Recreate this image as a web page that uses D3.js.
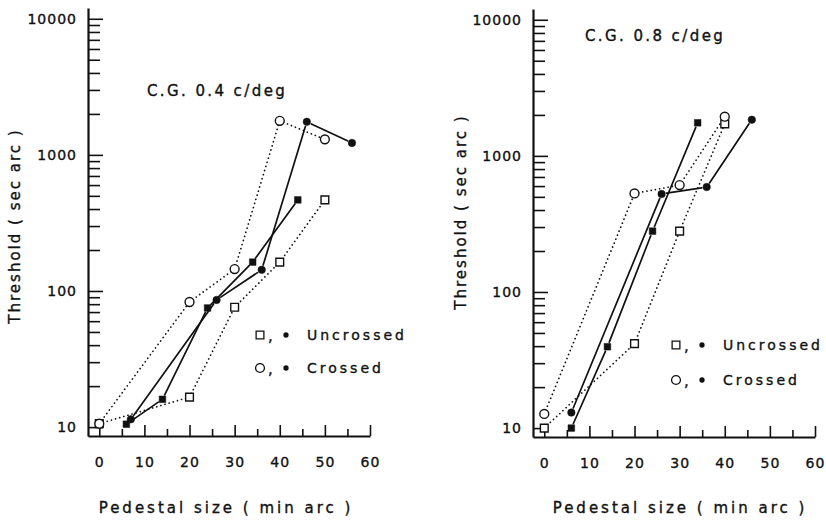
<!DOCTYPE html>
<html>
<head>
<meta charset="utf-8">
<script src="https://cdn.jsdelivr.net/npm/d3@7"></script>
<style>
  body { margin: 0; background: #fff; }
  text { font-family: "DejaVu Sans", sans-serif; fill: #111; stroke: #111; stroke-width: 0.35px; }
</style>
</head>
<body>
<svg id="chart" width="826" height="521"></svg>
<script>
// tick values
var yMajor = [10, 100, 1000, 10000];
var xTicks = [0, 5, 10, 15, 20, 25, 30, 35, 40, 45, 50, 55, 60];
var xLabels = [0, 10, 20, 30, 40, 50, 60];

// C.G. 0.4 c/deg
var leftUncrossedOpenX = [0, 20, 30, 40, 50];
var leftUncrossedOpenY = [10.6, 16.6, 76, 163, 467];
var leftCrossedOpenX = [0, 20, 30, 40, 50];
var leftCrossedOpenY = [10.6, 83, 145, 1780, 1300];
var leftUncrossedFilledX = [6, 14, 24, 34, 44];
var leftUncrossedFilledY = [10.5, 16, 75, 163, 467];
var leftCrossedFilledX = [7, 26, 36, 46, 56];
var leftCrossedFilledY = [11.4, 86, 143, 1750, 1225];

// C.G. 0.8 c/deg
var rightUncrossedOpenX = [0, 20, 30, 40];
var rightUncrossedOpenY = [10, 41.7, 280, 1720];
var rightCrossedOpenX = [0, 20, 30, 40];
var rightCrossedOpenY = [12.7, 530, 610, 1940];
var rightUncrossedFilledX = [6, 14, 24, 34];
var rightUncrossedFilledY = [10, 39.6, 280, 1750];
var rightCrossedFilledX = [6, 26, 36, 46];
var rightCrossedFilledY = [13, 525, 590, 1845];

var svg = d3.select("#chart");

// minor ticks 2..9 of every decade
var yTicks = [];
[10, 100, 1000].forEach(function (d) {
    for (var i = 1; i < 10; i++) yTicks.push(d * i);
});
yTicks.push(10000);

function zip(xs, ys) {
    return xs.map(function (x, i) { return [x, ys[i]]; });
}

function drawPanel(p) {
    var x = d3.scaleLinear().domain([-2.5, 60]).range([p.left, p.left + 282]);
    var y = d3.scaleLog().domain([8.6, 12000]).range([p.bottom, p.bottom - 428]);
    var g = svg.append("g");

    // y axis, ticks pointing inwards
    var yAxis = g.append("g")
        .attr("transform", "translate(" + p.left + ",0)")
        .call(d3.axisLeft(y).tickValues(yTicks).tickSize(-12).tickSizeOuter(0).tickPadding(11)
            .tickFormat(function (d) { return yMajor.indexOf(d) >= 0 ? d : ""; }));
    yAxis.selectAll(".tick line")
        .attr("x2", function (d) { return yMajor.indexOf(d) >= 0 ? 15 : 12; });

    var xAxis = g.append("g")
        .attr("transform", "translate(0," + p.bottom + ")")
        .call(d3.axisBottom(x).tickValues(xTicks).tickSize(-7).tickSizeOuter(0).tickPadding(21)
            .tickFormat(function (d) { return xLabels.indexOf(d) >= 0 ? d : ""; }));
    xAxis.selectAll(".tick line")
        .attr("y2", function (d) { return d % 10 == 0 ? -11 : -7; });

    g.selectAll(".domain").attr("stroke", "#111").attr("stroke-width", 2.2);
    g.selectAll(".tick line").attr("stroke", "#111").attr("stroke-width", 1.6);
    g.selectAll(".tick text")
        .style("font-size", "14px").style("letter-spacing", "1px").attr("fill", "#111");

    // titles
    g.append("text")
        .attr("x", p.titleX).attr("y", p.titleY)
        .style("font-size", "15px").style("letter-spacing", "2.4px")
        .text(p.title);
    g.append("text")
        .attr("transform", "translate(" + p.yTitleX + "," + p.yTitleY + ") rotate(-90)")
        .attr("text-anchor", "middle")
        .style("font-size", "15px").style("letter-spacing", "2px")
        .text("Threshold ( sec arc )");
    g.append("text")
        .attr("x", p.xTitleX).attr("y", 513)
        .attr("text-anchor", "middle")
        .style("font-size", "15px").style("letter-spacing", "3px")
        .text("Pedestal size ( min arc )");

    // connecting lines, pulled back a little from the markers
    function segments(pts, gap) {
        var out = [];
        for (var i = 0; i < pts.length - 1; i++) {
            var x1 = x(pts[i][0]), y1 = y(pts[i][1]);
            var x2 = x(pts[i + 1][0]), y2 = y(pts[i + 1][1]);
            var len = Math.hypot(x2 - x1, y2 - y1), ux = (x2 - x1) / len, uy = (y2 - y1) / len;
            out.push([x1 + ux * gap, y1 + uy * gap, x2 - ux * gap, y2 - uy * gap]);
        }
        return out;
    }
    p.series.forEach(function (s) {
        g.append("g").selectAll("line")
            .data(segments(s.pts, s.filled ? 5 : 4))
            .enter().append("line")
            .attr("x1", function (d) { return d[0]; })
            .attr("y1", function (d) { return d[1]; })
            .attr("x2", function (d) { return d[2]; })
            .attr("y2", function (d) { return d[3]; })
            .attr("stroke", "#111")
            .attr("stroke-width", s.filled ? 1.7 : 1.7)
            .attr("stroke-linecap", "round")
            .attr("stroke-dasharray", s.filled ? null : "0.1,4.2");
    });

    // markers
    p.series.forEach(function (s) {
        g.append("g").selectAll("path")
            .data(s.pts).enter().append("path")
            .attr("transform", function (d) { return "translate(" + x(d[0]) + "," + y(d[1]) + ")"; })
            .attr("d", marker(s.shape, s.filled))
            .attr("fill", s.filled ? "#111" : "#fff")
            .attr("stroke", "#111")
            .attr("stroke-width", s.filled ? 0.5 : 1.4);
    });

    // legend
    var items = [["square", "Uncrossed"], ["circle", "Crossed"]];
    items.forEach(function (it, i) {
        var ly = p.legendY + i * p.legendGap;
        g.append("path").attr("transform", "translate(" + p.legendX + "," + ly + ")")
            .attr("d", marker(it[0], false)).attr("fill", "#fff").attr("stroke", "#111").attr("stroke-width", 1.3);
        g.append("text").attr("x", p.legendX + 8).attr("y", ly + 6).style("font-size", "15px").text(",");
        g.append("path").attr("transform", "translate(" + (p.legendX + 26) + "," + ly + ")")
            .attr("d", d3.symbol(d3.symbolCircle, 22)()).attr("fill", "#111");
        g.append("text").attr("x", p.legendX + 47).attr("y", ly + 5)
            .style("font-size", "14px").style("letter-spacing", "3px")
            .text(it[1]);
    });
}

function marker(shape, filled) {
    if (shape == "square") return filled ? d3.symbol(d3.symbolSquare, 44)() : d3.symbol(d3.symbolSquare, 60)();
    return filled ? d3.symbol(d3.symbolCircle, 44)() : d3.symbol(d3.symbolCircle, 62)();
}

drawPanel({
    left: 88, bottom: 436,
    title: "C.G. 0.4 c/deg", titleX: 147, titleY: 96,
    yTitleX: 20, yTitleY: 226, xTitleX: 226,
    legendX: 260, legendY: 335, legendGap: 33,
    series: [
        { pts: zip(leftUncrossedOpenX, leftUncrossedOpenY), shape: "square", filled: false },
        { pts: zip(leftCrossedOpenX, leftCrossedOpenY), shape: "circle", filled: false },
        { pts: zip(leftUncrossedFilledX, leftUncrossedFilledY), shape: "square", filled: true },
        { pts: zip(leftCrossedFilledX, leftCrossedFilledY), shape: "circle", filled: true }
    ]
});

drawPanel({
    left: 533, bottom: 437,
    title: "C.G. 0.8 c/deg", titleX: 585, titleY: 41,
    yTitleX: 466, yTitleY: 212, xTitleX: 680,
    legendX: 676, legendY: 345, legendGap: 35,
    series: [
        { pts: zip(rightUncrossedOpenX, rightUncrossedOpenY), shape: "square", filled: false },
        { pts: zip(rightCrossedOpenX, rightCrossedOpenY), shape: "circle", filled: false },
        { pts: zip(rightUncrossedFilledX, rightUncrossedFilledY), shape: "square", filled: true },
        { pts: zip(rightCrossedFilledX, rightCrossedFilledY), shape: "circle", filled: true }
    ]
});
</script>
</body>
</html>
